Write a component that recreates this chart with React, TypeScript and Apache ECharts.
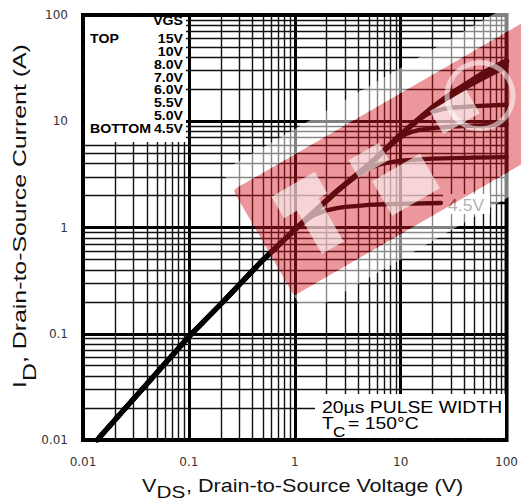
import React, { useEffect, useRef } from "react";
import * as echarts from "echarts";

// ---- data ----
const xTickLabels = ["0.01", "0.1", "1", "10", "100"];
const yTickLabels = ["0.01", "0.1", "1", "10", "100"];
const decadeStarts = [0.01, 0.1, 1, 10];
const minorMultipliers = [2, 3, 4, 5, 6, 7, 8, 9];

const vgsLabels = ["15V", "10V", "8.0V", "7.0V", "6.0V", "5.5V", "5.0V", "4.5V"];

// shared ohmic region (V_DS, I_D)
const ohmic = [
  [0.0136, 0.01],
  [0.03, 0.0243],
  [0.1, 0.094],
  [0.2, 0.19],
  [0.5, 0.495],
  [1, 0.95],
];

const curve45 = [[1.25, 1.15], [1.5, 1.3], [2, 1.45], [2.5, 1.52], [3, 1.56], [4, 1.6], [5, 1.63], [7, 1.655], [10, 1.67], [24, 1.7]];
const curve50 = [[1.5, 1.38], [2.5, 2.2], [3, 2.55], [3.5, 2.85], [4, 3.15], [5, 3.6], [6, 3.85], [7, 4.02], [8.5, 4.15], [10, 4.25], [15, 4.38], [20, 4.45], [50, 4.55], [100, 4.6]];
const curve55 = [[1.5, 1.38], [2.5, 2.2], [3.5, 2.9], [5, 3.9], [6.5, 4.95], [8, 5.9], [9.5, 6.8], [11, 7.5], [13, 8.0], [15, 8.3], [20, 8.6], [30, 8.9], [50, 9.1], [100, 9.3]];
const curve60 = [[1.5, 1.38], [2.5, 2.2], [3.5, 2.9], [5, 3.9], [7, 5.3], [10, 7.5], [12.5, 9.0], [15, 10.3], [17.5, 11.5], [20, 12.3], [25, 13.0], [30, 13.4], [50, 13.9], [100, 14.3]];
const curve70 = [[1.5, 1.38], [2.5, 2.2], [3.5, 2.9], [5, 3.9], [7, 5.3], [10, 7.5], [15, 10.6], [20, 13.4], [30, 17.2], [40, 20.5], [50, 23], [70, 27.5], [100, 32.5]];
const curve80 = [[1.5, 1.38], [2.5, 2.2], [3.5, 2.9], [5, 3.9], [7, 5.3], [10, 7.5], [15, 10.6], [20, 13.5], [30, 17.8], [45, 22.6], [60, 27], [80, 31], [100, 34.5]];
const curve10 = [[1.5, 1.38], [2.5, 2.2], [3.5, 2.9], [5, 3.9], [7, 5.3], [10, 7.5], [15, 10.6], [20, 13.5], [30, 18], [45, 23.2], [60, 27.8], [80, 32.2], [100, 36]];
const curve15 = [[1.5, 1.38], [2.5, 2.2], [3.5, 2.9], [5, 3.9], [7, 5.3], [10, 7.5], [15, 10.6], [20, 13.5], [30, 18.2], [45, 23.5], [60, 28.3], [80, 33], [100, 37]];

const curves = [
  { name: "4.5V", pts: curve45 },
  { name: "5.0V", pts: curve50 },
  { name: "5.5V", pts: curve55 },
  { name: "6.0V", pts: curve60 },
  { name: "7.0V", pts: curve70 },
  { name: "8.0V", pts: curve80 },
  { name: "10V", pts: curve10 },
  { name: "15V", pts: curve15 },
];

const labelFont = '"Liberation Sans", Arial, sans-serif';

export default function App() {
  const ref = useRef<HTMLDivElement>(null);
  useEffect(() => {
    document.body.style.margin = "0";
    const chart = echarts.init(ref.current!, null, { renderer: "svg" });

    const minorX = decadeStarts.flatMap((d) => minorMultipliers.map((m) => +(d * m).toPrecision(3)));
    const minorY = decadeStarts.flatMap((d) => minorMultipliers.map((m) => +(d * m).toPrecision(3)));
    const logIdx = (v: number) => Math.round(Math.log10(v)) + 2;

    const series: any[] = curves.map((c, i) => ({
      type: "line",
      name: c.name,
      data: [...ohmic, ...c.pts],
      symbol: "none",
      smooth: false,
      silent: true,
      z: 3,
      lineStyle: { color: "#000", width: i === curves.length - 1 ? 5.5 : 4.3, join: "round", cap: "round" },
      emphasis: { disabled: true },
      markLine:
        i === 0
          ? {
              silent: true,
              symbol: ["none", "none"],
              animation: false,
              label: { show: false },
              emphasis: { disabled: true },
              z: 1,
              lineStyle: { color: "#111", width: 1.4, type: "solid" },
              data: [...minorX.map((v) => ({ xAxis: v })), ...minorY.map((v) => ({ yAxis: v }))],
            }
          : undefined,
    }));

    const txt = (
      text: string,
      x: number,
      y: number,
      font: string,
      align: string,
      scaleX: number,
      fill = "#000",
      rotation = 0
    ) => ({
      type: "text",
      x,
      y,
      scaleX,
      rotation,
      z: 60,
      silent: true,
      style: {
        text,
        fill,
        font,
        align,
        textAlign: align,
        verticalAlign: "middle",
        textVerticalAlign: "middle",
      },
    });

    const legendFont = `bold 12px ${labelFont}`;
    const legendRowsY = [39, 52, 65, 77.5, 90, 102.5, 116, 129];
    const legendTexts = [
      txt("VGS", 183, 21, legendFont, "right", 1.18),
      txt("TOP", 90, 39, legendFont, "left", 1.18),
      txt("BOTTOM", 90, 129, legendFont, "left", 1.18),
      ...vgsLabels.map((l, i) => txt(l, 183, legendRowsY[i], legendFont, "right", 1.18)),
    ];

    const titleFont = `18px ${labelFont}`;
    const wm = "rgba(255,255,255,0.6)";
    const graphics: any[] = [
      { type: "rect", z: 50, silent: true, shape: { x: 85, y: 17, width: 101, height: 125 }, style: { fill: "#fff" } },
      ...legendTexts,
      { type: "rect", z: 50, silent: true, shape: { x: 315, y: 394, width: 190, height: 44 }, style: { fill: "#fff" } },
      txt("20µs PULSE WIDTH", 322, 407, `17px ${labelFont}`, "left", 1.14),
      txt("T", 322, 423, `17px ${labelFont}`, "left", 1.14),
      txt("C", 333, 431.5, `15px ${labelFont}`, "left", 1.14),
      txt("= 150°C", 348, 423, `17px ${labelFont}`, "left", 1.14),
      { type: "rect", z: 50, silent: true, shape: { x: 443, y: 194, width: 47, height: 20 }, style: { fill: "#fff" } },
      txt("4.5V", 448, 206, `16px ${labelFont}`, "left", 1.1, "#666"),
      { type: "line", z: 55, silent: true, shape: { x1: 490, y1: 203, x2: 507, y2: 203 }, style: { stroke: "#000", lineWidth: 2.5 } },
      // x axis title
      txt("V", 142, 486, titleFont, "left", 1.2, "#111"),
      txt("DS", 156.5, 492.5, `17px ${labelFont}`, "left", 1.22, "#111"),
      txt(", Drain-to-Source Voltage (V)", 186, 486, titleFont, "left", 1.2, "#111"),
      // y axis title
      txt("I", 20, 388, titleFont, "left", 1.38, "#111", Math.PI / 2),
      txt("D", 29.5, 381, titleFont, "left", 1.38, "#111", Math.PI / 2),
      txt(", Drain-to-Source Current (A)", 20, 363, titleFont, "left", 1.38, "#111", Math.PI / 2),
      // watermark
      {
        type: "group",
        x: 233,
        y: 190,
        rotation: Math.PI / 6,
        z: 100,
        silent: true,
        children: [
          { type: "rect", z: 100, shape: { x: 0, y: -22, width: 400, height: 22 }, style: { fill: "rgba(255,255,255,0.5)" } },
          { type: "rect", z: 100, shape: { x: 0, y: 122, width: 400, height: 22 }, style: { fill: "rgba(255,255,255,0.5)" } },
          { type: "rect", z: 100, shape: { x: 0, y: 0, width: 400, height: 122, r: 4 }, style: { fill: "rgba(210,25,35,0.45)" } },
          { type: "rect", z: 101, shape: { x: 30, y: 25, width: 50, height: 25 }, style: { fill: wm } },
          { type: "rect", z: 101, shape: { x: 45, y: 50, width: 25, height: 50 }, style: { fill: wm } },
          { type: "rect", z: 101, shape: { x: 115, y: 32, width: 35, height: 20 }, style: { fill: wm } },
          { type: "rect", z: 101, shape: { x: 125, y: 62, width: 55, height: 40 }, style: { fill: wm } },
          { type: "rect", z: 101, shape: { x: 210, y: 30, width: 42, height: 27 }, style: { fill: wm } },
          { type: "circle", z: 101, shape: { cx: 261, cy: 42, r: 33 }, style: { fill: "none", stroke: "rgba(255,255,255,0.55)", lineWidth: 5 } },
        ],
      },
    ];

    chart.setOption({
      animation: false,
      backgroundColor: "#fff",
      grid: {
        left: 83,
        top: 15,
        width: 424,
        height: 425,
        show: true,
        borderColor: "#000",
        borderWidth: 4,
        backgroundColor: "transparent",
      },
      xAxis: {
        type: "log",
        logBase: 10,
        min: 0.01,
        max: 100,
        axisLine: { show: false },
        axisTick: { show: false },
        minorTick: { show: false },
        splitLine: { show: true, lineStyle: { color: "#000", width: 3 } },
        axisLabel: {
          formatter: (v: number) => xTickLabels[logIdx(v)] ?? "",
          fontFamily: "DejaVu Sans",
          fontSize: 12,
          color: "#333",
          margin: 16,
          showMinLabel: true,
          showMaxLabel: true,
        },
      },
      yAxis: {
        type: "log",
        logBase: 10,
        min: 0.01,
        max: 100,
        axisLine: { show: false },
        axisTick: { show: false },
        minorTick: { show: false },
        splitLine: { show: true, lineStyle: { color: "#000", width: 3 } },
        axisLabel: {
          formatter: (v: number) => yTickLabels[logIdx(v)] ?? "",
          fontFamily: "DejaVu Sans",
          fontSize: 12,
          color: "#333",
          margin: 15,
          showMinLabel: true,
          showMaxLabel: true,
        },
      },
      series,
      graphic: { elements: graphics },
    });
    return () => chart.dispose();
  }, []);
  return <div ref={ref} style={{ width: 521, height: 503 }} />;
}
